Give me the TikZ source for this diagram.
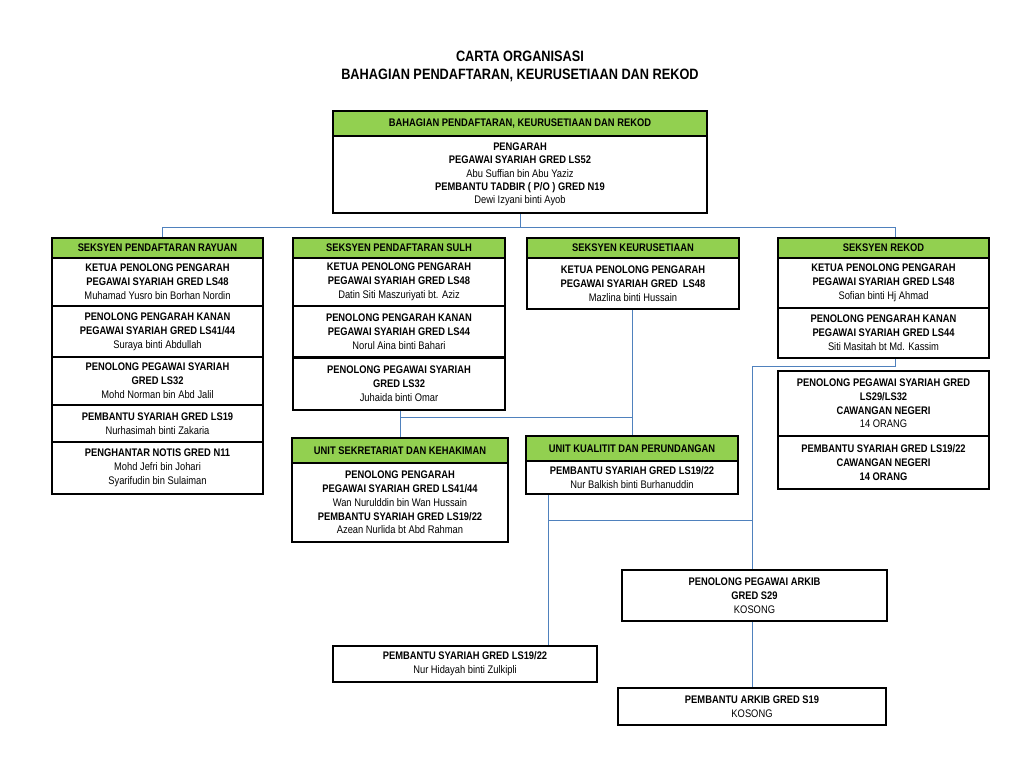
\documentclass[tikz,border=0pt]{standalone}
\usepackage{fontspec}
\setmainfont{Liberation Sans}[FakeStretch=0.85]
\usetikzlibrary{backgrounds}
\definecolor{hgreen}{HTML}{92D050}
\definecolor{linkblue}{RGB}{79,129,189}
\newcommand\bb[1]{{\bfseries #1}}
\newcommand\obox[7][box]{\node[#1,minimum width={(#5)-(#3)},minimum height={(#6)-(#4)}] (#2) at ({((#3)+(#5))/2},{((#4)+(#6))/2}) {#7};}
\begin{document}
\begin{tikzpicture}[x=1pt,y=-1pt,
  box/.style={draw=black,line width=1.8pt,fill=white,inner sep=0pt,align=center,font=\fontsize{11}{13.8}\selectfont},
  topbox/.style={box,font=\fontsize{11}{13.3}\selectfont},
  hdr/.style={box,fill=hgreen,font=\bfseries\fontsize{11}{13}\selectfont},
  conn/.style={draw=linkblue,line width=0.9pt}]
\useasboundingbox (0,0) rectangle (1024,768);

\node[font=\bfseries\fontsize{15}{18}\selectfont,align=center] (title) at (520,66) {CARTA ORGANISASI\\BAHAGIAN PENDAFTARAN, KEURUSETIAAN DAN REKOD};

% top
\obox[hdr]{tH}{333}{111}{707}{136}{BAHAGIAN PENDAFTARAN, KEURUSETIAAN DAN REKOD}
\obox[topbox]{tB}{333}{136}{707}{213}{\bb{PENGARAH}\\\bb{PEGAWAI SYARIAH GRED LS52}\\Abu Suffian bin Abu Yaziz\\\bb{PEMBANTU TADBIR ( P/O ) GRED N19}\\Dewi Izyani binti Ayob}

% column 1
\obox[hdr]{c1h}{52}{238}{263}{258}{SEKSYEN PENDAFTARAN RAYUAN}
\obox{c1a}{52}{258}{263}{306}{\bb{KETUA PENOLONG PENGARAH}\\\bb{PEGAWAI SYARIAH GRED LS48}\\Muhamad Yusro bin Borhan Nordin}
\obox{c1b}{52}{306}{263}{357}{\bb{PENOLONG PENGARAH KANAN}\\\bb{PEGAWAI SYARIAH GRED LS41/44}\\Suraya binti Abdullah}
\obox{c1c}{52}{357}{263}{405}{\bb{PENOLONG PEGAWAI SYARIAH}\\\bb{GRED LS32}\\Mohd Norman bin Abd Jalil}
\obox{c1d}{52}{405}{263}{442}{\bb{PEMBANTU SYARIAH GRED LS19}\\Nurhasimah binti Zakaria}
\obox{c1e}{52}{442}{263}{494}{\bb{PENGHANTAR NOTIS GRED N11}\\Mohd Jefri bin Johari\\Syarifudin bin Sulaiman}

% column 2
\obox[hdr]{c2h}{293}{238}{505}{258}{SEKSYEN PENDAFTARAN SULH}
\obox{c2a}{293}{258}{505}{306}{\bb{KETUA PENOLONG PENGARAH}\\\bb{PEGAWAI SYARIAH GRED LS48}\\Datin Siti Maszuriyati bt. Aziz}
\obox{c2b}{293}{306}{505}{357}{\bb{PENOLONG PENGARAH KANAN}\\\bb{PEGAWAI SYARIAH GRED LS44}\\Norul Aina binti Bahari}
\obox{c2c}{293}{358}{505}{410}{\bb{PENOLONG PEGAWAI SYARIAH}\\\bb{GRED LS32}\\Juhaida binti Omar}

% column 3
\obox[hdr]{c3h}{527}{238}{739}{258}{SEKSYEN KEURUSETIAAN}
\obox{c3a}{527}{258}{739}{309}{\bb{KETUA PENOLONG PENGARAH}\\\bb{PEGAWAI SYARIAH GRED\ \ LS48}\\Mazlina binti Hussain}

% column 4
\obox[hdr]{c4h}{778}{238}{989}{258}{SEKSYEN REKOD}
\obox{c4a}{778}{258}{989}{308}{\bb{KETUA PENOLONG PENGARAH}\\\bb{PEGAWAI SYARIAH GRED LS48}\\Sofian binti Hj Ahmad}
\obox{c4b}{778}{308}{989}{358}{\bb{PENOLONG PENGARAH KANAN}\\\bb{PEGAWAI SYARIAH GRED LS44}\\Siti Masitah bt Md. Kassim}
\obox{c4c}{778}{371}{989}{436}{\bb{PENOLONG PEGAWAI SYARIAH GRED}\\\bb{LS29/LS32}\\\bb{CAWANGAN NEGERI}\\14 ORANG}
\obox{c4d}{778}{436}{989}{489}{\bb{PEMBANTU SYARIAH GRED LS19/22}\\\bb{CAWANGAN NEGERI}\\\bb{14 ORANG}}

% units
\obox[hdr]{uskh}{292}{438}{508}{463}{UNIT SEKRETARIAT DAN KEHAKIMAN}
\obox{uskb}{292}{463}{508}{542}{\bb{PENOLONG PENGARAH}\\\bb{PEGAWAI SYARIAH GRED LS41/44}\\Wan Nurulddin bin Wan Hussain\\\bb{PEMBANTU SYARIAH GRED LS19/22}\\Azean Nurlida bt Abd Rahman}
\obox[hdr]{ukph}{526}{436}{738}{461}{UNIT KUALITIT DAN PERUNDANGAN}
\obox{ukpb}{526}{461}{738}{494}{\bb{PEMBANTU SYARIAH GRED LS19/22}\\Nur Balkish binti Burhanuddin}

% bottom
\obox{ppa}{622}{570}{887}{621}{\bb{PENOLONG PEGAWAI ARKIB}\\\bb{GRED S29}\\KOSONG}
\obox{psg}{333}{646}{597}{682}{\bb{PEMBANTU SYARIAH GRED LS19/22}\\Nur Hidayah binti Zulkipli}
\obox{pag}{618}{688}{886}{725}{\bb{PEMBANTU ARKIB GRED S19}\\KOSONG}

% connectors
\coordinate (busL) at (162,227);
\coordinate (busR) at (895,227);
\coordinate (j1) at (400,417);
\coordinate (j2) at (632,417);
\coordinate (k1) at (895,366);
\coordinate (k2) at (752,366);
\coordinate (m1) at (548,520);
\begin{scope}[on background layer]
\fill[white] (0,0) rectangle (1024,768);
\draw[conn] (tB.south) -- (tB.south |- busL);
\draw[conn] (busL) -- (busR);
\draw[conn] (busL) -- (busL |- c1h.north);
\draw[conn] (busR) -- (busR |- c4h.north);
\draw[conn] (j1 |- c2c.south) -- (j1 |- uskh.north);
\draw[conn] (j2 |- c3a.south) -- (j2 |- ukph.north);
\draw[conn] (j1) -- (j2);
\draw[conn] (k1 |- c4b.south) -- (k1) -- (k2) -- (k2 |- ppa.north);
\draw[conn] (m1 |- ukpb.south) -- (m1 |- psg.north);
\draw[conn] (m1) -- (k2 |- m1);
\draw[conn] (k2 |- ppa.south) -- (k2 |- pag.north);
\end{scope}
\end{tikzpicture}
\end{document}
